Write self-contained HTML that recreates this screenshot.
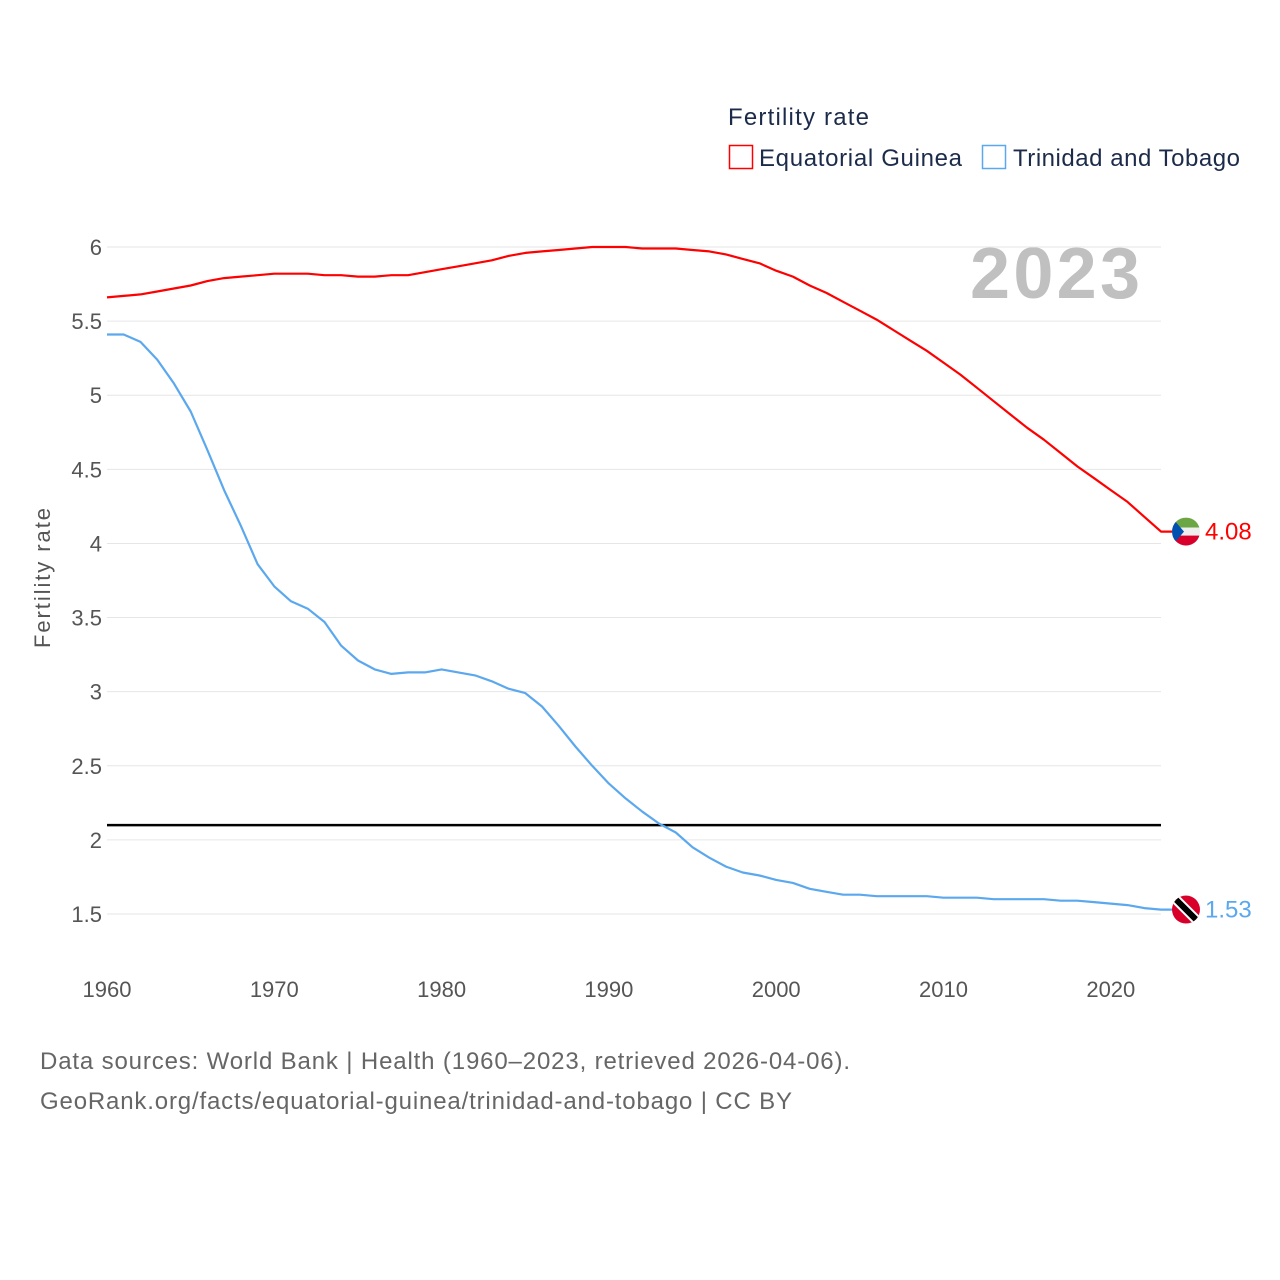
<!DOCTYPE html>
<html><head><meta charset="utf-8"><style>
body{margin:0;background:#fff;}
svg{display:block;font-family:"Liberation Sans",sans-serif;}
</style></head><body>
<svg id="chart" width="1280" height="1280" viewBox="0 0 1280 1280">
<text x="728" y="125" font-size="24" fill="#1c2b4a" textLength="141">Fertility rate</text>
<g>
<rect x="729.5" y="145.5" width="23" height="23" fill="none" stroke="#ff0000" stroke-width="1.5"/>
<text x="759" y="166" font-size="24" fill="#1c2b4a" textLength="203">Equatorial Guinea</text></g>
<g>
<rect x="982.5" y="145.5" width="23" height="23" fill="none" stroke="#5ba8ee" stroke-width="1.5"/>
<text x="1013" y="166" font-size="24" fill="#1c2b4a" textLength="227">Trinidad and Tobago</text></g>
<text x="970" y="298" font-size="72" font-weight="bold" fill="#c0c0c0" textLength="170">2023</text>
<text transform="translate(50,578) rotate(-90)" font-size="22" fill="#555" text-anchor="middle" textLength="140">Fertility rate</text>
<g id="grid"></g><g id="yt"></g><g id="xt"></g><g id="lines"></g>
<text x="40" y="1069" font-size="24" fill="#666" textLength="810">Data sources: World Bank | Health (1960–2023, retrieved 2026-04-06).</text>
<text x="40" y="1109" font-size="24" fill="#666" textLength="752">GeoRank.org/facts/equatorial-guinea/trinidad-and-tobago | CC BY</text>
</svg>
<script>
const years=[];for(let y=1960;y<=2023;y++)years.push(y);
const eqGuinea=[5.66,5.67,5.68,5.70,5.72,5.74,5.77,5.79,5.80,5.81,5.82,5.82,5.82,5.81,5.81,5.80,5.80,5.81,5.81,5.83,5.85,5.87,5.89,5.91,5.94,5.96,5.97,5.98,5.99,6.00,6.00,6.00,5.99,5.99,5.99,5.98,5.97,5.95,5.92,5.89,5.84,5.80,5.74,5.69,5.63,5.57,5.51,5.44,5.37,5.30,5.22,5.14,5.05,4.96,4.87,4.78,4.70,4.61,4.52,4.44,4.36,4.28,4.18,4.08];
const trinidad=[5.41,5.41,5.36,5.24,5.08,4.89,4.63,4.36,4.12,3.86,3.71,3.61,3.56,3.47,3.31,3.21,3.15,3.12,3.13,3.13,3.15,3.13,3.11,3.07,3.02,2.99,2.90,2.77,2.63,2.50,2.38,2.28,2.19,2.11,2.05,1.95,1.88,1.82,1.78,1.76,1.73,1.71,1.67,1.65,1.63,1.63,1.62,1.62,1.62,1.62,1.61,1.61,1.61,1.60,1.60,1.60,1.60,1.59,1.59,1.58,1.57,1.56,1.54,1.53];
const yTicks=[1.5,2,2.5,3,3.5,4,4.5,5,5.5,6];
const xTicks=[1960,1970,1980,1990,2000,2010,2020];
const replacement=2.1;
const NS="http://www.w3.org/2000/svg";
const X=v=>107+(v-1960)*(1161-107)/63;
const Y=v=>247+(6-v)*(914-247)/4.5;
function mk(t,a,p){const e=document.createElementNS(NS,t);for(const k in a)e.setAttribute(k,a[k]);document.getElementById(p).appendChild(e);return e;}
yTicks.forEach(v=>{
 const l=mk('line',{x1:107,x2:1161,y1:Y(v),y2:Y(v),stroke:'#e6e6e6','stroke-width':1},'grid');
 
 
 const t=mk('text',{x:102,y:Y(v)+8,'font-size':22,fill:'#555','text-anchor':'end'},'yt');t.textContent=v;
 
 
});
xTicks.forEach(v=>{
 const t=mk('text',{x:X(v),y:997,'font-size':22,fill:'#555','text-anchor':'middle'},'xt');t.textContent=v;
 
 
});
const rl=mk('line',{x1:107,x2:1161,y1:Y(replacement),y2:Y(replacement),stroke:'#000','stroke-width':2.5},'lines');


function series(vals,color,name,flag){
 const pts=vals.map((v,i)=>X(years[i]).toFixed(1)+','+Y(v).toFixed(1));
 const last=vals[vals.length-1];
 pts.push('1174,'+Y(last).toFixed(1));
 const p=mk('polyline',{points:pts.join(' '),fill:'none',stroke:color,'stroke-width':2.2,'stroke-linejoin':'round'},'lines');
 
 
 const g=mk('g',{},'lines');
 
 
 g.innerHTML=flag(1186,Y(last));
 const t=mk('text',{x:1205,y:Y(last)+8,'font-size':24,fill:color},'lines');t.textContent=last.toFixed(2);
 
 
}
series(eqGuinea,'#ff0000','equatorial-guinea',(cx,cy)=>`<defs><clipPath id="c1"><circle cx="${cx}" cy="${cy}" r="14"/></clipPath></defs><g clip-path="url(#c1)"><rect x="${cx-14}" y="${cy-14}" width="28" height="10" fill="#6ca544"/><rect x="${cx-14}" y="${cy-4}" width="28" height="8" fill="#eee"/><rect x="${cx-14}" y="${cy+4}" width="28" height="10" fill="#d8002a"/><polygon points="${cx-14},${cy-14} ${cx-2},${cy} ${cx-14},${cy+14}" fill="#0050b0"/></g>`);
series(trinidad,'#5ba8ee','trinidad-and-tobago',(cx,cy)=>`<defs><clipPath id="c2"><circle cx="${cx}" cy="${cy}" r="14"/></clipPath></defs><g clip-path="url(#c2)"><rect x="${cx-14}" y="${cy-14}" width="28" height="28" fill="#d8002a"/><line x1="${cx-14}" y1="${cy-14}" x2="${cx+14}" y2="${cy+14}" stroke="#fff" stroke-width="10"/><line x1="${cx-14}" y1="${cy-14}" x2="${cx+14}" y2="${cy+14}" stroke="#000" stroke-width="6"/></g>`);
</script>
</body></html>
